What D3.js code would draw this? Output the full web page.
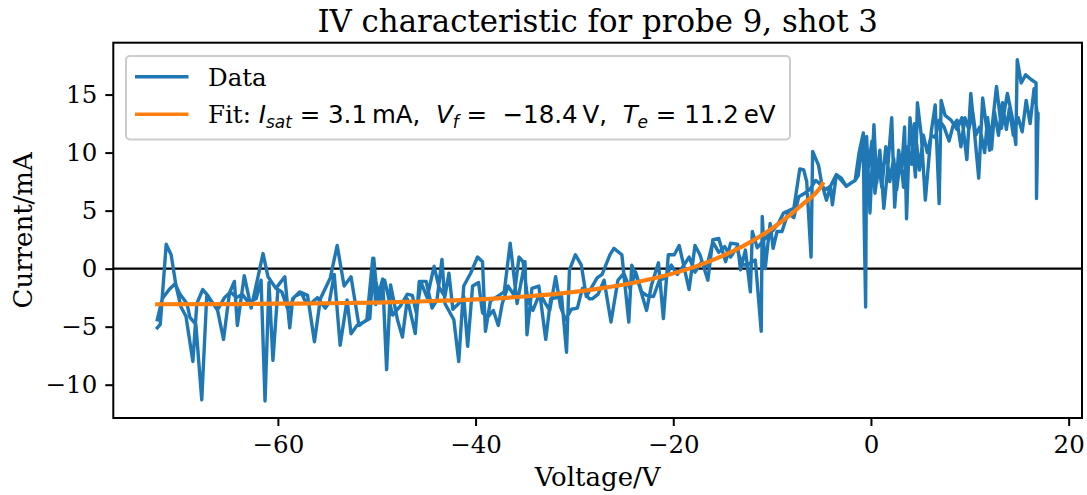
<!DOCTYPE html>
<html>
<head>
<meta charset="utf-8">
<script src="https://cdn.jsdelivr.net/npm/d3@7"></script>
<style>
    body { margin: 0; background: #fff; }
    svg text { font-family: "DejaVu Serif", serif; fill: #000; }
    .math { font-family: "DejaVu Sans", sans-serif; white-space: pre; }
</style>
</head>
<body>
<svg id="chart" width="1087" height="495"></svg>
<script>

// Probe current, [voltage V, current mA], upward sweep
const sweepUp = [
    [-72.2,-5.1],[-71.9,-4.8],[-71.3,2.1],[-70.8,1.2],[-70.3,-1.5],[-69.8,-3.3],[-69.3,-4.1],[-68.6,-8.0],
    [-68.2,-3.0],[-67.6,-1.8],[-67.1,-2.3],[-66.1,-3.6],[-65.5,-6.1],[-64.9,-2.1],[-64.4,-1.1],[-64.1,-4.9],
    [-63.4,-0.6],[-62.7,-3.4],[-61.5,1.3],[-61.0,-0.7],[-60.2,-1.7],[-59.3,-0.7],[-58.8,-5.1],[-58.5,-2.6],
    [-57.8,-2.0],[-57.0,-2.3],[-56.3,-6.3],[-55.7,-2.6],[-54.7,-0.8],[-54.0,2.0],[-53.3,-1.5],[-52.6,-0.7],
    [-51.8,-4.9],[-51.0,-4.4],[-50.4,0.9],[-50.1,-3.1],[-49.4,-0.9],[-49.0,-8.7],[-48.6,-1.4],[-47.9,-4.4],
    [-47.4,-5.9],[-46.9,-2.6],[-46.1,-5.6],[-45.7,-1.1],[-45.0,-1.1],[-44.4,-3.4],[-43.9,-2.7],[-43.4,0.8],
    [-43.1,-3.0],[-42.2,-4.4],[-41.7,-8.0],[-41.2,-1.5],[-40.5,-0.4],[-39.8,1.0],[-39.3,0.6],[-39.0,-5.4],
    [-38.5,-2.8],[-37.1,-2.0],[-36.5,2.2],[-35.8,-3.0],[-35.0,0.6],[-34.8,-5.7],[-34.3,-1.7],[-33.6,-1.5],
    [-32.9,-6.1],[-32.4,-2.6],[-31.3,-2.4],[-30.8,-7.2],[-30.5,-0.1],[-29.9,1.2],[-29.3,0.3],[-28.8,-2.4],
    [-27.7,-0.8],[-27.2,-0.5],[-26.4,1.2],[-26.0,1.75],[-25.2,1.2],[-24.5,-4.6],[-24.2,0.3],[-23.7,-0.7],
    [-22.7,-3.6],[-22.2,-1.4],[-21.5,0.5],[-21.0,-4.3],[-20.5,1.2],[-19.9,1.2],[-19.4,2.0],[-18.4,-1.8],
    [-17.8,2.0],[-17.3,1.2],[-16.5,-1.0],[-16.0,2.5],[-15.4,2.6],[-14.7,0.6],[-14.2,2.2],[-13.5,2.1],
    [-13.2,-0.1],[-12.7,1.6],[-12.2,-2.0],[-12.0,3.2],[-11.5,1.8],[-10.5,2.8],[-9.9,3.3],[-9.3,4.0],
    [-8.85,4.8],[-8.3,5.0],[-7.8,5.2],[-7.2,8.6],[-6.8,8.5],[-6.5,7.5],[-6.06,1.0],[-5.9,10.1],
    [-5.3,8.9],[-5.0,7.4],[-4.5,5.9],[-4.1,7.1],[-3.9,5.5],[-3.5,8.1],[-3.0,7.8],[-2.5,7.1],
    [-2.0,7.4],[-1.6,7.6],[-1.2,10.0],[-0.77,11.7],[-0.7,4.8],[-0.54,-3.3],[-0.44,11.4],[-0.1,4.8],
    [0.3,12.4],[0.58,7.4],[0.9,10.2],[1.3,5.2],[1.65,8.2],[2.1,13.0],[2.4,5.3],[2.8,10.2],
    [3.1,8.5],[3.4,12.2],[3.6,4.3],[3.95,13.0],[4.5,7.9],[4.7,14.3],[5.1,11.4],[5.5,5.9],
    [6.1,11.8],[6.5,14.1],[6.9,5.6],[7.1,14.5],[7.5,13.2],[8.1,12.8],[8.7,12.0],[9.2,13.0],
    [9.7,9.4],[10.1,15.1],[10.5,11.5],[10.9,7.8],[11.3,14.7],[12.0,10.2],[12.7,15.7],[13.2,12.1],
    [13.8,15.1],[14.3,13.0],[14.65,10.7],[14.8,18.0],[15.2,16.0],[15.65,16.7],[16.2,16.3],[16.7,16.0],
    [16.75,6.05],[16.9,13.4]
];

// return sweep, listed from low to high voltage (reversed when drawn)
const sweepDown = [
    [-72.2,-4.4],[-71.7,-2.6],[-71.0,-1.8],[-70.4,-1.3],[-69.9,-2.2],[-69.2,-3.0],[-68.9,-4.2],[-68.3,-4.8],
    [-67.7,-11.3],[-67.2,-2.4],[-66.7,-2.9],[-66.0,-3.4],[-65.4,-2.5],[-64.8,-2.0],[-64.2,-2.5],[-63.6,-2.2],
    [-63.0,-2.9],[-62.2,-2.6],[-61.7,-1.0],[-61.3,-11.4],[-60.9,-1.2],[-60.5,-7.9],[-60.0,-1.8],[-59.6,-2.0],
    [-59.0,-3.5],[-58.3,-2.4],[-57.6,-2.1],[-57.3,-2.7],[-56.8,-3.1],[-56.0,-2.5],[-55.2,-3.4],[-54.8,-2.9],
    [-54.3,-0.5],[-53.7,-6.6],[-53.0,-2.7],[-52.6,-5.6],[-52.0,-4.9],[-51.3,-4.6],[-50.7,-4.3],[-50.3,0.9],
    [-50.1,-1.0],[-49.7,-2.8],[-49.2,-1.0],[-48.4,-4.0],[-47.6,-3.2],[-46.9,-2.2],[-46.4,-2.3],[-46.0,-3.8],
    [-45.5,-1.2],[-44.9,-2.5],[-44.2,0.2],[-43.7,-1.6],[-43.1,-2.4],[-42.7,-0.4],[-42.3,-3.5],[-41.7,-3.0],
    [-41.2,-2.4],[-40.8,-6.7],[-40.3,-1.5],[-39.7,-1.2],[-39.3,-3.8],[-38.8,-4.2],[-38.2,-3.6],[-37.7,-4.9],
    [-37.3,-3.0],[-36.7,-1.5],[-36.1,-2.3],[-35.6,1.0],[-35.2,0.6],[-34.7,-2.8],[-34.2,-3.6],[-33.5,-2.1],
    [-33.0,-2.9],[-32.5,-3.6],[-31.9,-0.7],[-31.4,-3.3],[-30.9,-4.4],[-30.3,-3.5],[-29.7,-3.4],[-29.2,-1.7],
    [-28.5,-2.6],[-28.2,-2.6],[-27.6,-2.2],[-27.0,-1.0],[-26.3,-4.6],[-25.6,-1.0],[-25.0,-0.4],[-24.4,-1.7],
    [-23.8,-0.3],[-23.2,-2.0],[-22.7,-2.3],[-22.0,-2.4],[-21.4,-1.0],[-20.8,-0.8],[-20.2,0.3],[-19.6,-0.5],
    [-19.0,0.2],[-18.4,1.0],[-17.8,-0.3],[-17.2,0.5],[-16.6,0.2],[-16.0,2.3],[-15.4,1.4],[-14.8,1.9],
    [-14.2,1.0],[-13.6,1.8],[-13.0,0.3],[-12.4,0.4],[-11.7,0.75],[-11.1,-5.4],[-11.0,4.5],[-10.7,0.0],
    [-10.2,3.9],[-9.9,1.75],[-9.5,3.2],[-9.0,3.2],[-8.4,4.8],[-7.8,4.4],[-7.3,6.2],[-6.7,6.5],
    [-6.2,6.8],[-5.6,7.6],[-5.0,7.2],[-4.6,6.8],[-4.1,7.1],[-3.5,8.1],[-2.5,7.1],[-1.6,7.6],
    [-1.3,8.0],[-0.9,10.5],[-0.6,11.0],[-0.3,8.5],[0.1,11.0],[0.4,6.5],[0.8,9.0],[1.1,7.0],
    [1.5,10.5],[1.9,7.5],[2.3,9.5],[2.6,6.8],[3.0,9.5],[3.3,7.0],[3.7,10.5],[4.1,9.0],
    [4.4,12.5],[4.9,8.5],[5.3,11.5],[5.7,10.0],[6.1,11.5],[6.5,11.3],[6.9,12.8],[7.4,12.2],
    [7.9,11.0],[8.3,12.3],[8.7,12.8],[9.1,10.5],[9.5,13.0],[9.9,12.0],[10.3,13.5],[10.6,11.5],
    [11.0,12.2],[11.5,10.0],[11.8,13.0],[12.2,10.3],[12.5,13.5],[12.9,11.5],[13.3,14.3],[13.7,12.0],
    [14.0,13.8],[14.4,11.5],[14.9,13.0],[15.3,11.8],[15.7,14.5],[16.1,12.5],[16.5,15.5],[16.9,12.8]
];

// orange fit curve
const fitCurve = [
    [-72.2,-3.07],[-65,-3.05],[-60,-3.02],[-55,-2.98],[-50,-2.92],[-45,-2.81],[-40,-2.65],[-35,-2.40],
    [-30,-2.00],[-27,-1.66],[-24,-1.22],[-21,-0.64],[-18,0.11],[-15,1.10],[-13,1.92],[-11,2.90],
    [-9,4.08],[-7,5.48],[-5,7.16],[-4.9,7.3]
];

const xTicks = [-60, -40, -20, 0, 20];
const yTicks = [-10, -5, 0, 5, 10, 15];
const xLimits = [-76.65, 21.35];
const yLimits = [-12.87, 19.47];

const margin = { top: 42.7, right: 5, bottom: 77, left: 113.3 };
const W = 1087, H = 495;
const plotW = W - margin.left - margin.right;
const plotH = H - margin.top - margin.bottom;
const lw = 2;

let svg = d3.select("#chart");
let g = svg.append("g").attr("transform", "translate(" + margin.left + "," + margin.top + ")");

let x = d3.scaleLinear().domain(xLimits).range([0, plotW]);
let y = d3.scaleLinear().domain(yLimits).range([plotH, 0]);

g.append("clipPath").attr("id", "clip").append("rect").attr("width", plotW).attr("height", plotH);
let plot = g.append("g").attr("clip-path", "url(#clip)");

// horizontal zero line
plot.append("line").attr("x1", 0).attr("x2", plotW).attr("y1", y(0)).attr("y2", y(0))
    .attr("stroke", "#000").attr("stroke-width", 2.1);

let line = d3.line().x(d => x(d[0])).y(d => y(d[1]));
let dataPath = sweepUp.concat(sweepDown.slice().reverse());

plot.append("path").datum(dataPath).attr("d", line)
    .attr("fill", "none").attr("stroke", "#1f77b4").attr("stroke-width", 3.4).attr("stroke-linejoin", "round").attr("stroke-linecap", "square");
plot.append("path").datum(fitCurve).attr("d", d3.line().curve(d3.curveMonotoneX).x(d => x(d[0])).y(d => y(d[1])))
    .attr("fill", "none").attr("stroke", "#ff7f0e").attr("stroke-width", 4.2).attr("stroke-linecap", "square");

// axes
let xAxis = g.append("g").attr("transform", "translate(0," + plotH + ")")
    .call(d3.axisBottom(x).tickValues(xTicks).tickSize(8).tickPadding(10).tickFormat(d3.format("d")));
let yAxis = g.append("g")
    .call(d3.axisLeft(y).tickValues(yTicks).tickSize(8).tickPadding(8).tickFormat(d3.format("d")));
[xAxis, yAxis].forEach(a => {
    a.select(".domain").remove();
    a.selectAll("line").attr("stroke", "#000").attr("stroke-width", lw);
    a.selectAll("text").attr("font-family", "DejaVu Serif").attr("font-size", 24.5).attr("fill", "#000");
});

g.append("rect").attr("width", plotW).attr("height", plotH)
    .attr("fill", "none").attr("stroke", "#000").attr("stroke-width", lw);

// labels
svg.append("text").attr("x", margin.left + plotW / 2).attr("y", 31.5).attr("text-anchor", "middle")
    .attr("font-size", 30.8).text("IV characteristic for probe 9, shot 3");
svg.append("text").attr("x", margin.left + plotW / 2).attr("y", 486).attr("text-anchor", "middle")
    .attr("font-size", 26).text("Voltage/V");
svg.append("text").attr("transform", "translate(32," + (margin.top + plotH / 2) + ") rotate(-90)")
    .attr("text-anchor", "middle").attr("font-size", 26).text("Current/mA");

// legend
let legend = svg.append("g");
legend.append("rect").attr("x", 126).attr("y", 56).attr("width", 664).attr("height", 83.5).attr("rx", 4)
    .attr("fill", "#fff").attr("fill-opacity", 0.8).attr("stroke", "#ccc").attr("stroke-width", lw);
legend.append("line").attr("x1", 135).attr("x2", 188.5).attr("y1", 76.7).attr("y2", 76.7)
    .attr("stroke", "#1f77b4").attr("stroke-width", 3.4);
legend.append("line").attr("x1", 135).attr("x2", 188.5).attr("y1", 114.3).attr("y2", 114.3)
    .attr("stroke", "#ff7f0e").attr("stroke-width", 3.4);
legend.append("text").attr("x", 208).attr("y", 86).attr("font-size", 24.5).text("Data");

let fitText = legend.append("text").attr("x", 208).attr("y", 123.3).attr("font-size", 24.5);
fitText.append("tspan").text("Fit: ");
let parts = [
    ["I", "it"], ["sat", "sub"], [" = 3.1\u2009mA,  ", "rm"],
    ["V", "it"], ["f", "sub"], [" =  \u221218.4\u2009V,  ", "rm"],
    ["T", "it"], ["e", "sub"], [" = 11.2\u2009eV", "rm"]
];
let shift = 0;
parts.forEach(p => {
    let t = fitText.append("tspan").attr("class", "math").text(p[0]);
    if (p[1] === "it") {
        t.attr("font-style", "italic").attr("dy", -shift); shift = 0;
    } else if (p[1] === "sub") {
        t.attr("font-style", "italic").attr("font-size", 17).attr("dy", 5); shift = 5;
    } else {
        t.attr("dy", -shift); shift = 0;
    }
});

</script>
</body>
</html>
